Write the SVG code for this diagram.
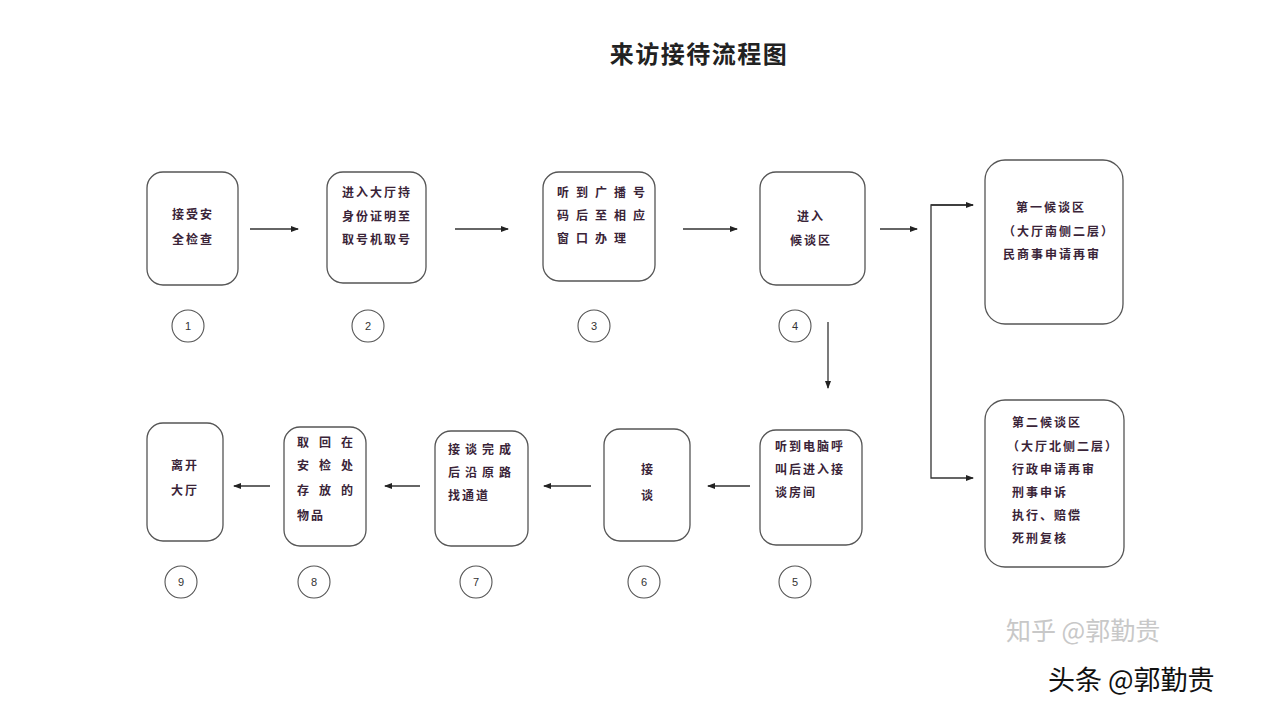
<svg xmlns="http://www.w3.org/2000/svg" width="1280" height="704" viewBox="0 0 1280 704">
<style>
.bg{fill:#ffffff}
.box{fill:#ffffff;stroke:#555555;stroke-width:1.3}
.num{fill:#ffffff;stroke:#555555;stroke-width:1.1}
.t{font-family:"Noto Sans CJK SC","Noto Sans",sans-serif;font-size:12px;fill:#3a2438;font-weight:bold;letter-spacing:2px}
.n{font-family:"Liberation Sans",sans-serif;font-size:11px;fill:#333;text-anchor:middle}
.title{font-family:"Noto Sans CJK SC",sans-serif;font-size:24px;font-weight:bold;fill:#222;text-anchor:middle;letter-spacing:1.5px}
.c{text-anchor:middle}
.line{stroke:#333;stroke-width:1.3;fill:none}
</style>
<defs>
<marker id="ah" markerWidth="8" markerHeight="8" refX="7" refY="4" orient="auto" markerUnits="userSpaceOnUse">
<path d="M0,1 L8,4 L0,7 Z" fill="#222"/>
</marker>
</defs>
<rect class="bg" x="0" y="0" width="1280" height="704"/>
<text class="title" x="699" y="63">来访接待流程图</text>

<g id="n1"><rect class="box" x="147" y="172" width="91" height="113" rx="16"/>
<text class="t c" x="193" y="219">接受安</text><text class="t c" x="193" y="244">全检查</text></g>
<g id="n2"><rect class="box" x="327" y="172" width="99" height="111" rx="16"/>
<text class="t" x="342" y="197">进入大厅持</text><text class="t" x="342" y="221">身份证明至</text><text class="t" x="342" y="244">取号机取号</text></g>
<g id="n3"><rect class="box" x="543" y="172" width="112" height="109" rx="16"/>
<text class="t" x="557" y="197" style="letter-spacing:7px">听到广播号</text><text class="t" x="557" y="220" style="letter-spacing:7px">码后至相应</text><text class="t" x="557" y="243" style="letter-spacing:7px">窗口办理</text></g>
<g id="n4"><rect class="box" x="760" y="172" width="105" height="113" rx="16"/>
<text class="t c" x="811" y="221">进入</text><text class="t c" x="811" y="245">候谈区</text></g>
<g id="r1"><rect class="box" x="985" y="160" width="138" height="164" rx="20"/>
<text class="t" x="1016" y="212">第一候谈区</text><text class="t" x="1003" y="236">（大厅南侧二层）</text><text class="t" x="1003" y="259">民商事申请再审</text></g>
<g id="r2"><rect class="box" x="985" y="400" width="139" height="167" rx="20"/>
<text class="t" x="1012" y="427">第二候谈区</text><text class="t" x="1007" y="451">（大厅北侧二层）</text><text class="t" x="1012" y="474">行政申请再审</text><text class="t" x="1012" y="497">刑事申诉</text><text class="t" x="1012" y="520">执行、赔偿</text><text class="t" x="1012" y="543">死刑复核</text></g>

<g id="n5"><rect class="box" x="760" y="430" width="102" height="115" rx="16"/>
<text class="t" x="775" y="451">听到电脑呼</text><text class="t" x="775" y="474">叫后进入接</text><text class="t" x="775" y="497">谈房间</text></g>
<g id="n6"><rect class="box" x="604" y="429" width="86" height="112" rx="16"/>
<text class="t c" x="648" y="474">接</text><text class="t c" x="648" y="500">谈</text></g>
<g id="n7"><rect class="box" x="435" y="431" width="93" height="115" rx="16"/>
<text class="t" x="448" y="454" style="letter-spacing:5px">接谈完成</text><text class="t" x="448" y="477" style="letter-spacing:5px">后沿原路</text><text class="t" x="448" y="500">找通道</text></g>
<g id="n8"><rect class="box" x="284" y="427" width="82" height="119" rx="16"/>
<text class="t" x="297" y="447" style="letter-spacing:10px">取回在</text><text class="t" x="297" y="470" style="letter-spacing:10px">安检处</text><text class="t" x="297" y="495" style="letter-spacing:10px">存放的</text><text class="t" x="297" y="520">物品</text></g>
<g id="n9"><rect class="box" x="147" y="423" width="76" height="118" rx="16"/>
<text class="t c" x="185" y="470">离开</text><text class="t c" x="185" y="495">大厅</text></g>

<g id="nums">
<circle class="num" cx="188" cy="326" r="16"/><text class="n" x="188" y="330">1</text>
<circle class="num" cx="368" cy="326" r="16"/><text class="n" x="368" y="330">2</text>
<circle class="num" cx="594" cy="326" r="16"/><text class="n" x="594" y="330">3</text>
<circle class="num" cx="795" cy="326" r="16"/><text class="n" x="795" y="330">4</text>
<circle class="num" cx="181" cy="582" r="16"/><text class="n" x="181" y="586">9</text>
<circle class="num" cx="314" cy="582" r="16"/><text class="n" x="314" y="586">8</text>
<circle class="num" cx="476" cy="582" r="16"/><text class="n" x="476" y="586">7</text>
<circle class="num" cx="644" cy="582" r="16"/><text class="n" x="644" y="586">6</text>
<circle class="num" cx="795" cy="582" r="16"/><text class="n" x="795" y="586">5</text>
</g>

<g id="connectors">
<line class="line" x1="250" y1="229" x2="298" y2="229" marker-end="url(#ah)"/>
<line class="line" x1="455" y1="229" x2="508" y2="229" marker-end="url(#ah)"/>
<line class="line" x1="683" y1="229" x2="737" y2="229" marker-end="url(#ah)"/>
<line class="line" x1="880" y1="229" x2="917" y2="229" marker-end="url(#ah)"/>
<polyline class="line" points="973,205 931,205 931,478 973,478" marker-end="url(#ah)"/>
<line class="line" x1="931" y1="205" x2="973" y2="205" marker-end="url(#ah)"/>
<line class="line" x1="828" y1="322" x2="828" y2="388" marker-end="url(#ah)"/>
<line class="line" x1="750" y1="486" x2="708" y2="486" marker-end="url(#ah)"/>
<line class="line" x1="591" y1="486" x2="544" y2="486" marker-end="url(#ah)"/>
<line class="line" x1="420" y1="486" x2="385" y2="486" marker-end="url(#ah)"/>
<line class="line" x1="270" y1="486" x2="234" y2="486" marker-end="url(#ah)"/>
</g>

<g id="watermark" font-family="Noto Sans CJK SC, sans-serif">
<text x="1006" y="640" font-size="25" fill="#c8c8c8">知乎 @郭勤贵</text>
<text x="1048" y="690" font-size="27" fill="#111" stroke="#ffffff" stroke-width="3" paint-order="stroke">头条 @郭勤贵</text>
</g>
</svg>
